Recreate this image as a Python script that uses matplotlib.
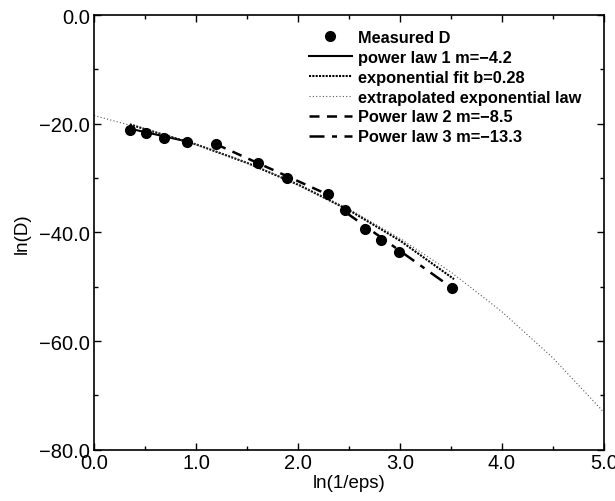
import matplotlib as mpl
mpl.use("Agg")
import matplotlib.pyplot as plt
from matplotlib.ticker import MultipleLocator, FuncFormatter

plt.rcParams['font.family'] = ['Liberation Sans', 'DejaVu Sans']

# Puntos medidos
x_medido = [0.353, 0.51, 0.686, 0.909, 1.199, 1.608, 1.889, 2.297, 2.464, 2.657, 2.81, 2.99, 3.507]
y_medido = [-21.1, -21.7, -22.7, -23.4, -23.7, -27.3, -30.0, -32.9, -35.9, -39.4, -41.4, -43.6, -50.2]

# Ajuste exponencial
x_ajuste = [0.35, 0.5, 1.0, 1.5, 2.0, 2.5, 3.0, 3.53]
y_ajuste = [-20.1, -21.0, -23.8, -27.2, -31.2, -35.9, -41.5, -48.6]

# Ley exponencial extrapolada
x_extrap = [0.0, 0.5, 1.0, 1.5, 2.0, 2.5, 3.0, 3.5, 4.0, 4.5, 5.0]
y_extrap = [-18.5, -21.0, -23.8, -27.2, -31.1, -35.7, -41.1, -47.3, -54.6, -63.1, -73.1]

# Leyes de potencia (extremos de cada recta)
x_pot1 = [0.35, 0.92]
y_pot1 = [-20.9, -23.3]
x_pot2 = [1.20, 2.30]
y_pot2 = [-23.8, -33.1]
x_pot3 = [2.46, 3.51]
y_pot3 = [-36.2, -50.2]

fig = plt.figure(figsize=(6.15, 5.02), dpi=100)
ax = fig.add_axes([0.153, 0.102, 0.829, 0.866])

ax.plot(x_medido, y_medido, "o", color="black", markersize=7, label="Measured D", zorder=5)
ax.plot(x_pot1, y_pot1, "-", color="black", linewidth=1.5, label="power law 1 m=\u22124.2")
ax.plot(x_ajuste, y_ajuste, color="black", linewidth=1.5, linestyle=(0, (1, 0.6)),
        label="exponential fit b=0.28")
ax.plot(x_extrap, y_extrap, color="0.35", linewidth=0.8, linestyle=(0, (1, 2)),
        label="extrapolated exponential law")
ax.plot(x_pot2, y_pot2, color="black", linewidth=1.8, linestyle=(0, (4, 3)),
        label="Power law 2 m=\u22128.5")
ax.plot(x_pot3, y_pot3, color="black", linewidth=1.8, linestyle=(0, (6, 3, 2, 3)),
        label="Power law 3 m=\u221213.3")

ax.set_xlim(0, 5)
ax.set_ylim(-80, 0)
ax.xaxis.set_major_locator(MultipleLocator(1.0))
ax.xaxis.set_minor_locator(MultipleLocator(0.5))
ax.yaxis.set_major_locator(MultipleLocator(20))
ax.yaxis.set_minor_locator(MultipleLocator(10))
fmt = FuncFormatter(lambda v, p: ("%.1f" % v).replace("-", "\u2212"))
ax.xaxis.set_major_formatter(fmt)
ax.yaxis.set_major_formatter(fmt)
ax.tick_params(which="both", direction="in", top=True, right=True, labelsize=14.5)
ax.tick_params(which="major", length=5, width=1)
ax.tick_params(which="minor", length=3, width=1)
ax.tick_params(axis="x", pad=2)
ax.tick_params(axis="y", pad=3)
for lado in ax.spines.values():
    lado.set_linewidth(1.2)

ax.set_xlabel("ln(1/eps)", fontsize=13.5, labelpad=2)
ax.set_ylabel("ln(D)", fontsize=13.5, labelpad=6)

ax.legend(loc="upper right", frameon=False, prop={"weight": "bold", "size": 11.8},
          handlelength=2.6, handletextpad=0.4, labelspacing=0.3, numpoints=1,
          borderaxespad=0.5, bbox_to_anchor=(0.985, 1.0))

fig.savefig("out.png", dpi=100)
